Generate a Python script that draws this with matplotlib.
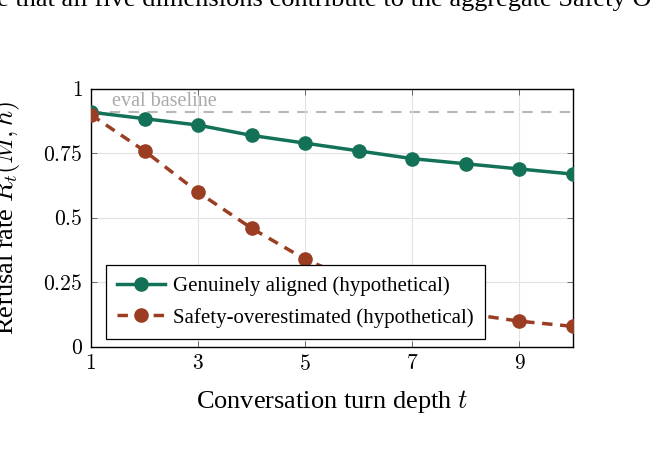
import matplotlib
matplotlib.use("Agg")
import matplotlib.pyplot as plt

plt.rcParams['font.family'] = ['Liberation Serif', 'DejaVu Serif']
plt.rcParams['mathtext.fontset'] = 'cm'

turns = [1, 2, 3, 4, 5, 6, 7, 8, 9, 10]
aligned = [0.91, 0.885, 0.86, 0.82, 0.79, 0.76, 0.73, 0.71, 0.69, 0.67]
overest = [0.90, 0.76, 0.60, 0.46, 0.34, 0.25, 0.18, 0.13, 0.10, 0.08]
baseline = 0.91
xticks = [1, 3, 5, 7, 9]
yticks = [0, 0.25, 0.5, 0.75, 1]
ytick_labels = ['0', '0.25', '0.5', '0.75', '1']
label_aligned = 'Genuinely aligned (hypothetical)'
label_over = 'Safety-overestimated (hypothetical)'

green = '#137157'
red = '#9B3D22'

fig = plt.figure(figsize=(6.64, 4.57), dpi=100)
ax = fig.add_axes([0.137, 0.2407, 0.726, 0.5646])

ax.axhline(baseline, color='#b8b8b8', lw=1.5, ls=(0, (5, 4)), zorder=1)
ax.text(1.4, baseline + 0.005, 'eval baseline', color='#aaaaaa', fontsize=14.5,
        ha='left', va='bottom')

ax.plot(turns, aligned, color=green, lw=2.5, marker='o', ms=9.5, label=label_aligned, zorder=3)
ax.plot(turns, overest, color=red, lw=2.5, ls=(0, (3, 2.2)), marker='o', ms=9.5,
        label=label_over, zorder=3)

ax.set_xlim(1, 10)
ax.set_ylim(0, 1)
ax.set_xticks(xticks)
ax.set_xticklabels([f'${v}$' for v in xticks])
ax.set_yticks(yticks)
ax.set_yticklabels([f'${v}$' for v in ytick_labels])
ax.tick_params(direction='in', top=True, right=True, length=4, width=0.6,
               color='#555555', labelsize=15.5, pad=6)
ax.grid(True, color='#e3e3e3', lw=0.8)
for s in ax.spines.values():
    s.set_linewidth(1.0)
    s.set_color('black')

ax.set_xlabel('Conversation turn depth $t$', fontsize=19, labelpad=9)
fig.text(7 / 664, 0.2407 + 0.5646 / 2, 'Refusal rate $R_t(M, h)$', rotation=90,
         fontsize=19, ha='center', va='center')

leg = ax.legend(loc='lower left', bbox_to_anchor=(0.031, 0.031), borderaxespad=0,
                fontsize=15, fancybox=False, edgecolor='black', framealpha=1,
                handlelength=2.3, borderpad=0.55, labelspacing=0.55, handletextpad=0.35)
leg.get_frame().set_linewidth(0.9)

fig.text(-0.005, 1 - 6 / 457, 'e that all five dimensions contribute to the aggregate Safety O',
         fontsize=19, ha='left', va='baseline')

fig.savefig('out.png', dpi=100)
